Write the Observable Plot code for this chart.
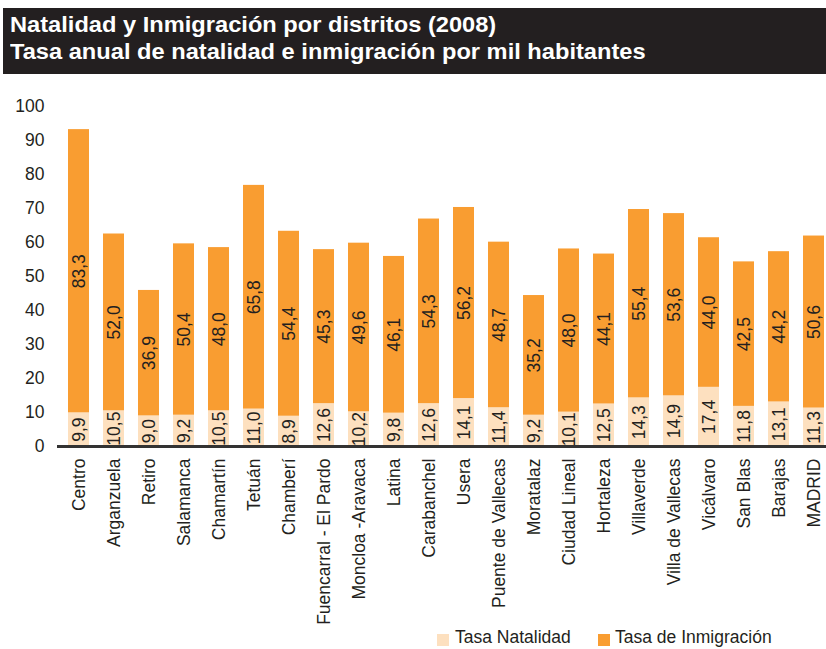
<!DOCTYPE html>
<html>
<head>
<meta charset="utf-8">
<script src="https://cdn.jsdelivr.net/npm/d3@7"></script>
<script src="https://cdn.jsdelivr.net/npm/@observablehq/plot@0.6"></script>
<style>
  html, body { margin: 0; padding: 0; background: #fff; overflow: hidden; width: 826px; height: 649px; }
  #title {
    position: absolute; left: 3px; top: 8px; width: 823px; height: 66px;
    background: #231f20; color: #fff;
    font-family: "Liberation Sans", Arial, sans-serif;
    font-weight: bold; font-size: 21.5px; line-height: 27px; box-sizing: border-box; padding: 4px 0 0 7px;
  }
  #title div { transform: scaleX(1.10); transform-origin: 0 50%; white-space: nowrap; }
  #chart { position: absolute; left: 0; top: 74px; width: 826px; overflow: hidden; }
  #legend { position: absolute; left: 0; top: 626px; width: 826px; height: 21px;
    font-family: "Liberation Sans", Arial, sans-serif; font-size: 17.5px; color: #231f20; }
  .sw { position: absolute; top: 8px; width: 12px; height: 12px; }
  .lt { position: absolute; top: 1px; white-space: nowrap; line-height: 20px; }
</style>
</head>
<body>
<div id="title"><div>Natalidad y Inmigración por distritos (2008)</div><div>Tasa anual de natalidad e inmigración por mil habitantes</div></div>
<div id="chart"></div>
<div id="legend">
  <div class="sw" style="left:437px;background:#fde0bf"></div><div class="lt" style="left:455px">Tasa Natalidad</div>
  <div class="sw" style="left:598px;background:#f99d31"></div><div class="lt" style="left:615px">Tasa de Inmigración</div>
</div>
<script>
const districts = ["Centro","Arganzuela","Retiro","Salamanca","Chamartín","Tetuán","Chamberí","Fuencarral - El Pardo","Moncloa -Aravaca","Latina","Carabanchel","Usera","Puente de Vallecas","Moratalaz","Ciudad Lineal","Hortaleza","Villaverde","Villa de Vallecas","Vicálvaro","San Blas","Barajas","MADRID"];
const natalidad = [9.9,10.5,9.0,9.2,10.5,11.0,8.9,12.6,10.2,9.8,12.6,14.1,11.4,9.2,10.1,12.5,14.3,14.9,17.4,11.8,13.1,11.3];
const inmigracion = [83.3,52.0,36.9,50.4,48.0,65.8,54.4,45.3,49.6,46.1,54.3,56.2,48.7,35.2,48.0,44.1,55.4,53.6,44.0,42.5,44.2,50.6];
const yTicks = [0,10,20,30,40,50,60,70,80,90,100];

const series = ["Tasa Natalidad","Tasa de Inmigración"];
const rows = [];
districts.forEach((d, i) => {
  rows.push({district: d, serie: series[0], y1: 0, y2: natalidad[i], v: natalidad[i]});
  rows.push({district: d, serie: series[1], y1: natalidad[i], y2: natalidad[i] + inmigracion[i], v: inmigracion[i]});
});
const fmt = v => v.toFixed(1).replace(".", ",");
const font = "Liberation Sans, Arial, sans-serif";

const plot = Plot.plot({
  width: 826,
  height: 556,
  marginLeft: 57,
  marginRight: 0,
  marginTop: 32,
  marginBottom: 184,
  style: {fontFamily: font, fontSize: "17.5px", color: "#231f20", background: "transparent", overflow: "visible"},
  x: {domain: districts, range: [57, 834], paddingInner: 0.4, paddingOuter: 0.2, axis: null},
  y: {domain: [0, 100], axis: null},
  color: {domain: series, range: ["#fde0bf", "#f99d31"]},
  marks: [
    Plot.ruleY(yTicks.filter(t => t > 0), {x1: 57, x2: 834, stroke: "#d4d4d4", strokeWidth: 1.5}),
    Plot.axisY(yTicks, {tickSize: 0, tickPadding: 13, label: null, fontSize: 17.5, fill: "#231f20", tickFormat: d => d}),
    Plot.rectY(rows, {x: "district", y1: "y1", y2: "y2", fill: "serie"}),
    Plot.text(rows, {x: "district", y: d => (d.y1 + d.y2) / 2, text: d => fmt(d.v), rotate: -90, textAnchor: "middle", lineAnchor: "middle", fill: "#231f20", fontSize: 17.5}),
    Plot.ruleY([0], {stroke: "#333333", strokeWidth: 3}),
    Plot.text(districts, {x: d => d, frameAnchor: "bottom", dy: 12, rotate: -90, textAnchor: "end", lineAnchor: "middle", fill: "#231f20", fontSize: 17.5})
  ]
});
document.getElementById("chart").appendChild(plot);
</script>
</body>
</html>
